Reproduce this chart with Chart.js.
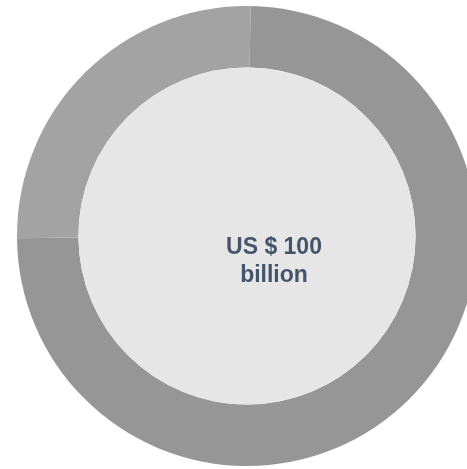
<!DOCTYPE html>
<html>
<head>
<meta charset="utf-8">
<script src="https://cdn.jsdelivr.net/npm/chart.js@4/dist/chart.umd.min.js"></script>
<style>
  html, body { margin: 0; padding: 0; background: #ffffff; overflow: hidden; width: 467px; height: 469px; }
  #wrap { position: absolute; left: 17px; top: 6px; width: 460px; height: 460px; }
</style>
</head>
<body>
<div id="wrap"><canvas id="chart" width="460" height="460"></canvas></div>
<script>
// Share split of the total
const categories = ['Share A', 'Share B'];
const values = [74.6, 25.4];
const sliceColors = ['#969696', '#a3a3a3'];
const centerLines = ['US $ 100', 'billion'];

// Fills the doughnut hole and writes the centre caption
const centerFill = {
  id: 'centerFill',
  afterDatasetsDraw(chart) {
    const arc = chart.getDatasetMeta(0).data[0];
    if (!arc) return;
    const { x, y, innerRadius } = arc.getProps(['x', 'y', 'innerRadius'], true);
    const ctx = chart.ctx;
    ctx.save();
    ctx.beginPath();
    ctx.arc(x, y, innerRadius, 0, Math.PI * 2);
    ctx.fillStyle = '#e6e6e6';
    ctx.fill();
    ctx.fillStyle = '#44546a';
    ctx.font = 'bold 23px "Liberation Sans", Arial, sans-serif';
    ctx.textAlign = 'center';
    ctx.textBaseline = 'alphabetic';
    ctx.fillText(centerLines[0], x + 27, y + 18);
    ctx.fillText(centerLines[1], x + 27, y + 46);
    ctx.restore();
  }
};

new Chart(document.getElementById('chart'), {
  type: 'doughnut',
  data: {
    labels: categories,
    datasets: [{
      data: values,
      backgroundColor: sliceColors,
      borderWidth: 0,
      hoverOffset: 0
    }]
  },
  options: {
    responsive: false,
    animation: false,
    cutout: '73.3%',
    rotation: 0.9,
    layout: { padding: 0 },
    plugins: {
      legend: { display: false },
      tooltip: { enabled: false }
    }
  },
  plugins: [centerFill]
});
</script>
</body>
</html>
